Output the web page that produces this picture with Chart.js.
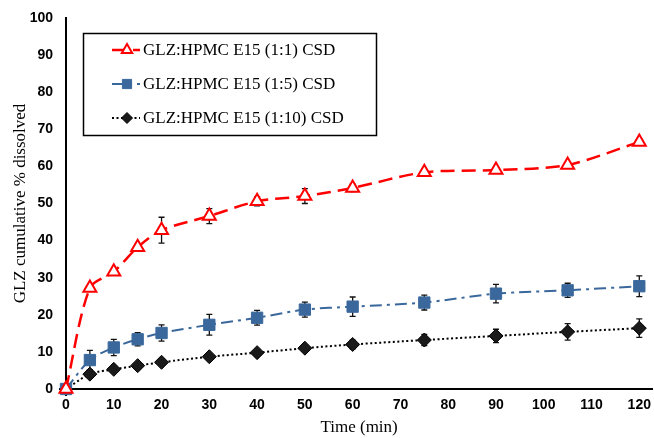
<!DOCTYPE html>
<html>
<head>
<meta charset="utf-8">
<script src="https://cdn.jsdelivr.net/npm/chart.js@4/dist/chart.umd.min.js"></script>
<style>
  html, body { margin: 0; padding: 0; background: #fff; }
  #wrap { width: 654px; height: 438px; }
</style>
</head>
<body>
<div id="wrap"><canvas id="grafico"></canvas></div>
<script>
// tempos de amostragem (min)
var tempos = [0, 5, 10, 15, 20, 30, 40, 50, 60, 75, 90, 105, 120];

var rotulos = ['GLZ:HPMC E15 (1:1) CSD', 'GLZ:HPMC E15 (1:5) CSD', 'GLZ:HPMC E15 (1:10) CSD'];

var serie1 = [0, 27.2, 31.6, 38.2, 42.8, 46.6, 50.6, 52.0, 54.2, 58.4, 59.0, 60.4, 66.6];
var serie5 = [0, 7.8, 11.2, 13.4, 15.1, 17.3, 19.2, 21.4, 22.2, 23.3, 25.7, 26.6, 27.7];
var serie10 = [0, 4.0, 5.3, 6.3, 7.2, 8.7, 9.8, 11.0, 12.0, 13.2, 14.3, 15.4, 16.4];

// desvios (barras de erro)
var erro1 = [0, 0.6, 0.6, 0.9, 3.5, 2.0, 1.2, 2.0, 1.0, 0.8, 0.5, 0.6, 0.6];
var erro5 = [0, 2.6, 2.2, 1.8, 2.2, 2.8, 2.0, 2.0, 2.6, 2.0, 2.5, 1.9, 2.8];
var erro10 = [0, 1.0, 0.8, 0.8, 0.8, 0.8, 0.7, 0.8, 1.2, 1.5, 1.8, 2.2, 2.5];

var ticksX = [0, 10, 20, 30, 40, 50, 60, 70, 80, 90, 100, 110, 120];

function pontos(v) {
  return tempos.map(function (t, i) { return { x: t, y: v[i] }; });
}

var erros = [erro1, erro5, erro10];

// barras de erro desenhadas com as escalas do grafico
var barrasErro = {
  id: 'barrasErro',
  beforeDatasetsDraw: function (chart) {
    var ctx = chart.ctx;
    var sx = chart.scales.x, sy = chart.scales.y;
    ctx.save();
    ctx.strokeStyle = '#111';
    ctx.lineWidth = 1.3;
    chart.data.datasets.forEach(function (ds, d) {
      ds.data.forEach(function (p, i) {
        var e = erros[d][i];
        if (!e) return;
        var x = sx.getPixelForValue(p.x);
        var y1 = sy.getPixelForValue(p.y - e);
        var y2 = sy.getPixelForValue(p.y + e);
        ctx.beginPath();
        ctx.moveTo(x, y1); ctx.lineTo(x, y2);
        ctx.moveTo(x - 3, y1); ctx.lineTo(x + 3, y1);
        ctx.moveTo(x - 3, y2); ctx.lineTo(x + 3, y2);
        ctx.stroke();
      });
    });
    ctx.restore();
  }
};

// legenda com caixa
var legendaCaixa = {
  id: 'legendaCaixa',
  afterDraw: function (chart) {
    var ctx = chart.ctx;
    ctx.save();
    ctx.strokeStyle = '#000';
    ctx.lineWidth = 1.5;
    ctx.strokeRect(83.5, 33.5, 293, 102);
    var ys = [50, 84, 118];
    chart.data.datasets.forEach(function (ds, i) {
      var y = ys[i];
      ctx.save();
      ctx.strokeStyle = ds.borderColor;
      ctx.lineWidth = ds.borderWidth;
      ctx.setLineDash(ds.borderDash);
      ctx.beginPath();
      ctx.moveTo(112, y); ctx.lineTo(140, y);
      ctx.stroke();
      ctx.restore();
      ctx.save();
      ctx.fillStyle = ds.pointBackgroundColor;
      ctx.strokeStyle = ds.pointBorderColor;
      ctx.lineWidth = ds.pointBorderWidth;
      Chart.helpers.drawPoint(ctx, {
        pointStyle: ds.pointStyle,
        radius: ds.pointRadius - 1.5,
        borderWidth: ds.pointBorderWidth
      }, 127, y);
      ctx.restore();
      ctx.fillStyle = '#000';
      ctx.font = '17px "Liberation Serif", "Times New Roman", serif';
      ctx.textBaseline = 'middle';
      ctx.fillText(rotulos[i], 143, y + 1);
    });
    ctx.restore();
  }
};

var fonteEixo = { family: 'Arial, "Liberation Sans", sans-serif', size: 14, weight: 'bold' };
var fonteTitulo = { family: '"Times New Roman", "Liberation Serif", serif', size: 17 };

var my = new Chart(document.getElementById('grafico'), {
  type: 'line',
  data: {
    datasets: [{
      label: rotulos[0],
      data: pontos(serie1),
      borderColor: '#ff0000',
      borderWidth: 2.5,
      borderDash: [14, 7],
      pointStyle: 'triangle',
      pointRadius: 7.5,
      pointBorderWidth: 2,
      pointBackgroundColor: '#fff',
      pointBorderColor: '#ff0000',
      tension: 0.3,
      clip: false
    }, {
      label: rotulos[1],
      data: pontos(serie5),
      borderColor: '#3a689c',
      borderWidth: 2,
      borderDash: [12, 5, 3, 5],
      pointStyle: 'rect',
      pointRadius: 8,
      pointBorderWidth: 1,
      pointBackgroundColor: '#3a689c',
      pointBorderColor: '#3a689c',
      tension: 0.3,
      clip: false
    }, {
      label: rotulos[2],
      data: pontos(serie10),
      borderColor: '#000',
      borderWidth: 2,
      borderDash: [2, 2.5],
      pointStyle: 'rectRot',
      pointRadius: 7,
      pointBorderWidth: 1,
      pointBackgroundColor: '#1a1a1a',
      pointBorderColor: '#000',
      tension: 0.3,
      clip: false
    }]
  },
  options: {
    responsive: true,
    maintainAspectRatio: false,
    animation: false,
    layout: { autoPadding: false, padding: { top: 18, right: 1, left: 0, bottom: 0 } },
    plugins: {
      legend: { display: false },
      tooltip: { enabled: false }
    },
    scales: {
      x: {
        type: 'linear',
        min: 0,
        max: 122.7,
        grid: { display: false, drawTicks: true, tickLength: 5, tickColor: '#000' },
        border: { color: '#000', width: 2 },
        afterBuildTicks: function (s) {
          s.ticks = ticksX.map(function (v) { return { value: v }; });
        },
        afterFit: function (s) { s.height = 49; },
        ticks: {
          color: '#000',
          padding: 3,
          maxRotation: 0,
          font: fonteEixo
        },
        title: {
          display: true,
          text: 'Time (min)',
          color: '#000',
          padding: { top: 2, bottom: 0 },
          font: fonteTitulo
        }
      },
      y: {
        min: 0,
        max: 100,
        grid: { display: false, drawTicks: true, tickLength: 5, tickColor: '#000' },
        border: { color: '#000', width: 2 },
        afterFit: function (s) { s.width = 66; },
        ticks: {
          stepSize: 10,
          color: '#000',
          padding: 8,
          font: fonteEixo
        },
        title: {
          display: true,
          text: 'GLZ cumulative % dissolved',
          color: '#000',
          padding: { top: 10, bottom: 4 },
          font: fonteTitulo
        }
      }
    }
  },
  plugins: [barrasErro, legendaCaixa]
});
</script>
</body>
</html>
